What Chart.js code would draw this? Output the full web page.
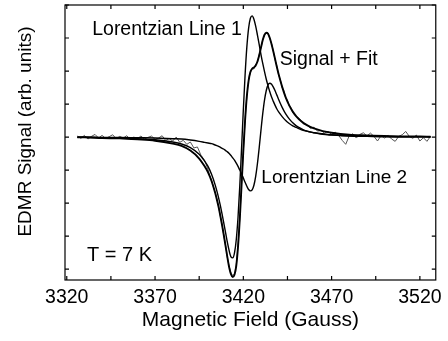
<!DOCTYPE html>
<html>
<head>
<meta charset="utf-8">
<script src="https://cdn.jsdelivr.net/npm/chart.js@4.4.1/dist/chart.umd.min.js"></script>
<style>
  html, body { margin: 0; padding: 0; background: #fff; }
  #wrap { width: 448px; height: 341px; }
</style>
</head>
<body>
<div id="wrap"><canvas id="myChart" width="448" height="341"></canvas></div>
<script>
  // magnetic field (Gauss) for the fitted curves
  const field = [
    3326, 3330, 3340, 3350, 3360, 3370, 3380, 3385, 3390, 3395, 3398, 3400, 3402, 3404,
    3405, 3406, 3407, 3408, 3409, 3410, 3411, 3412, 3413, 3414, 3415, 3416, 3417, 3418,
    3419, 3420, 3421, 3422, 3423, 3424, 3425, 3426, 3427, 3428, 3429, 3430, 3431, 3432,
    3433, 3434, 3435, 3436, 3437, 3438, 3439, 3440,
    3442, 3444, 3446, 3448, 3450, 3453, 3456, 3460, 3465, 3470, 3480, 3490, 3500, 3510, 3520, 3526
  ];

  const line1 = [
    -0.01, -0.01, -0.02, -0.03, -0.05, -0.08, -0.15, -0.21, -0.32, -0.52, -0.72, -0.89, -1.13, -1.44,
    -1.63, -1.84, -2.08, -2.34, -2.62, -2.91, -3.20, -3.45, -3.63, -3.66, -3.51, -3.11, -2.43, -1.48,
    -0.35, 0.82, 1.88, 2.73, 3.30, 3.60, 3.67, 3.57, 3.36, 3.09, 2.80, 2.50, 2.23, 1.98,
    1.75, 1.55, 1.37, 1.21, 1.08, 0.96, 0.85, 0.76,
    0.62, 0.50, 0.41, 0.34, 0.29, 0.22, 0.18, 0.13, 0.10, 0.07, 0.04, 0.03, 0.02, 0.01, 0.01, 0.01
  ];

  const line2 = [
    0.00, 0.00, -0.01, -0.01, -0.02, -0.03, -0.05, -0.06, -0.09, -0.13, -0.16, -0.18, -0.20, -0.24,
    -0.26, -0.28, -0.31, -0.34, -0.37, -0.41, -0.45, -0.50, -0.56, -0.63, -0.70, -0.79, -0.89, -1.00,
    -1.11, -1.24, -1.37, -1.49, -1.59, -1.63, -1.60, -1.46, -1.19, -0.80, -0.32, 0.21, 0.71, 1.12,
    1.41, 1.58, 1.63, 1.60, 1.51, 1.40, 1.27, 1.14,
    0.90, 0.70, 0.55, 0.43, 0.34, 0.25, 0.18, 0.13, 0.08, 0.06, 0.03, 0.02, 0.01, 0.01, 0.01, 0.00
  ];

  const fit = [
    -0.01, -0.01, -0.03, -0.04, -0.07, -0.11, -0.20, -0.27, -0.41, -0.65, -0.88, -1.07, -1.33, -1.68,
    -1.89, -2.12, -2.39, -2.68, -2.99, -3.32, -3.65, -3.95, -4.15, -4.24, -4.17, -3.90, -3.32, -2.48,
    -1.46, -0.42, 0.51, 1.24, 1.71, 1.97, 2.07, 2.11, 2.17, 2.29, 2.48, 2.71, 2.94, 3.10,
    3.16, 3.13, 3.00, 2.81, 2.59, 2.36, 2.12, 1.90,
    1.52, 1.20, 0.96, 0.77, 0.63, 0.47, 0.36, 0.26, 0.18, 0.13, 0.07, 0.05, 0.03, 0.02, 0.02, 0.01
  ];

  // measured EDMR signal (noisy trace)
  const signalField = [
    3326, 3328, 3330, 3332, 3334, 3336, 3338, 3340, 3342, 3344, 3346, 3348, 3350, 3352, 3354, 3356,
    3358, 3360, 3362, 3364, 3366, 3368, 3370, 3372, 3374, 3376, 3378, 3380, 3382, 3384, 3386, 3388,
    3390, 3392, 3394, 3396, 3398, 3400,
    3401, 3402, 3403, 3404, 3405, 3406, 3407, 3408, 3409, 3410, 3411, 3412, 3413, 3414, 3415, 3416,
    3417, 3418, 3419, 3420, 3421, 3422, 3423, 3424, 3425, 3426, 3427, 3428, 3429, 3430, 3431, 3432,
    3433, 3434, 3435, 3436, 3437, 3438, 3439, 3440, 3441, 3442, 3443, 3444, 3445, 3446, 3447, 3448,
    3450, 3452, 3454, 3456, 3458, 3460, 3462, 3464, 3466, 3468, 3470, 3472, 3474, 3476, 3478, 3480,
    3482, 3484, 3486, 3488, 3490, 3492, 3494, 3496, 3498, 3500, 3502, 3504, 3506, 3508, 3510, 3512,
    3514, 3516, 3518, 3520, 3522, 3524, 3526
  ];

  const signal = [
    0.03, -0.04, 0.05, -0.06, 0.02, 0.08, -0.03, 0.05, -0.04, 0.01, 0.07, -0.05, 0.02, -0.03, 0.04, -0.07,
    0.00, -0.05, 0.03, -0.06, -0.01, 0.03, -0.07, -0.03, 0.04, -0.10, -0.05, -0.12, 0.00, -0.16, -0.10, -0.22,
    -0.15, -0.33, -0.30, -0.55, -0.70, -0.98,
    -1.18, -1.30, -1.50, -1.66, -1.87, -2.10, -2.40, -2.66, -3.00, -3.30, -3.66, -3.92, -4.12, -4.20, -4.14, -3.88,
    -3.28, -2.47, -1.44, -0.44, 0.52, 1.22, 1.73, 1.96, 2.08, 2.06, 2.20, 2.26, 2.50, 2.70, 2.95, 3.08,
    3.15, 3.14, 2.98, 2.83, 2.60, 2.33, 2.15, 1.88, 1.74, 1.50, 1.40, 1.18, 1.12, 0.93, 0.90, 0.74,
    0.62, 0.55, 0.40, 0.38, 0.26, 0.30, 0.18, 0.20, 0.12, 0.17, 0.08, 0.15, 0.05, -0.10, -0.22, 0.04,
    0.10, -0.03, 0.08, 0.13, 0.03, 0.12, 0.02, -0.12, 0.04, -0.03, 0.05, -0.06, -0.13, 0.02, 0.07, 0.17,
    0.02, -0.04, 0.06, -0.12, -0.02, -0.13, 0.02
  ];

  const xTicks = [3320, 3345, 3370, 3395, 3420, 3445, 3470, 3495, 3520];
  const xLabels = [3320, 3370, 3420, 3470, 3520];
  const yTicks = [-4, -3, -2, -1, 0, 1, 2, 3, 4];

  const fontFamily = "'Liberation Sans', Arial, Helvetica, sans-serif";

  const pts = (xs, ys) => xs.map((x, i) => ({ x: x, y: ys[i] }));

  // frame with inward ticks, in-plot labels and the y axis title
  const framePlugin = {
    id: 'frame',
    afterDatasetsDraw(chart) {
      const { ctx, chartArea: a, scales: { x, y } } = chart;
      ctx.save();
      ctx.strokeStyle = '#000';
      ctx.lineWidth = 1.2;
      ctx.strokeRect(a.left, a.top, a.right - a.left, a.bottom - a.top);
      ctx.beginPath();
      xTicks.forEach(v => {
        const p = x.getPixelForValue(v);
        ctx.moveTo(p, a.bottom); ctx.lineTo(p, a.bottom - 4);
        ctx.moveTo(p, a.top); ctx.lineTo(p, a.top + 4);
      });
      yTicks.forEach(v => {
        const p = y.getPixelForValue(v);
        ctx.moveTo(a.left, p); ctx.lineTo(a.left + 4, p);
        ctx.moveTo(a.right, p); ctx.lineTo(a.right - 4, p);
      });
      ctx.stroke();

      ctx.fillStyle = '#000';
      ctx.textAlign = 'left';
      ctx.textBaseline = 'middle';
      const notes = [
        { text: 'Lorentzian Line 1', x: 3334.4, y: 3.24, size: 19.5 },
        { text: 'Signal + Fit', x: 3440.6, y: 2.36, size: 19.5 },
        { text: 'Lorentzian Line 2', x: 3430.2, y: -1.24, size: 19 },
        { text: 'T = 7 K', x: 3331.5, y: -3.58, size: 20 }
      ];
      notes.forEach(n => {
        ctx.font = n.size + 'px ' + fontFamily;
        ctx.fillText(n.text, x.getPixelForValue(n.x), y.getPixelForValue(n.y));
      });

      ctx.translate(26, 131.5);
      ctx.rotate(-Math.PI / 2);
      ctx.textAlign = 'center';
      ctx.font = '19px ' + fontFamily;
      ctx.fillText('EDMR Signal (arb. units)', 0, 0);
      ctx.restore();
    }
  };

  const data = {
    datasets: [
      {
        label: 'Lorentzian Line 1',
        data: pts(field, line1),
        borderColor: '#000',
        borderWidth: 1.4,
        cubicInterpolationMode: 'monotone'
      },
      {
        label: 'Lorentzian Line 2',
        data: pts(field, line2),
        borderColor: '#000',
        borderWidth: 1.4,
        cubicInterpolationMode: 'monotone'
      },
      {
        label: 'Fit',
        data: pts(field, fit),
        borderColor: '#000',
        borderWidth: 1.9,
        cubicInterpolationMode: 'monotone'
      },
      {
        label: 'Signal',
        data: pts(signalField, signal),
        borderColor: '#555',
        borderWidth: 1
      }
    ]
  };

  const config = {
    type: 'line',
    data: data,
    plugins: [framePlugin],
    options: {
      responsive: false,
      animation: false,
      events: [],
      layout: { padding: { top: 5, right: 10, left: 0, bottom: 0 } },
      elements: { point: { radius: 0 } },
      plugins: { legend: { display: false }, tooltip: { enabled: false } },
      scales: {
        x: {
          type: 'linear',
          min: 3319,
          max: 3529,
          grid: { display: false, drawTicks: false },
          border: { display: false },
          afterBuildTicks: s => { s.ticks = xTicks.map(v => ({ value: v })); },
          afterFit: s => { s.height = 61; },
          ticks: {
            autoSkip: false,
            maxRotation: 0,
            padding: 6,
            color: '#000',
            font: { family: fontFamily, size: 19.5 },
            callback: v => (xLabels.includes(v) ? String(v) : '')
          },
          title: {
            display: true,
            text: 'Magnetic Field (Gauss)',
            color: '#000',
            font: { family: fontFamily, size: 21 },
            padding: { top: 0, bottom: 8 }
          }
        },
        y: {
          type: 'linear',
          min: -4.33,
          max: 4.0,
          grid: { display: false, drawTicks: false },
          border: { display: false },
          afterBuildTicks: s => { s.ticks = yTicks.map(v => ({ value: v })); },
          afterFit: s => { s.width = 65; },
          ticks: { display: false }
        }
      }
    }
  };

  const myChart = new Chart(document.getElementById('myChart'), config);
</script>
</body>
</html>
